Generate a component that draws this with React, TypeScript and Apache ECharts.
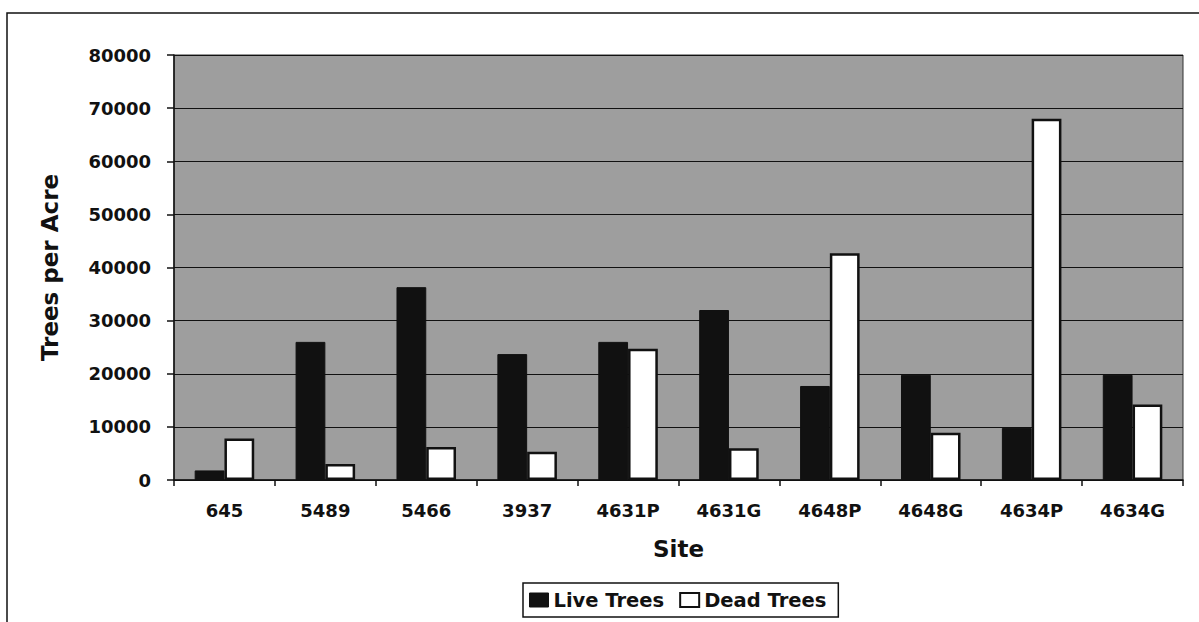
import React, { useEffect, useRef } from "react";
import * as echarts from "echarts";

const sites = ["645", "5489", "5466", "3937", "4631P", "4631G", "4648P", "4648G", "4634P", "4634G"];
const liveTrees = [1800, 26000, 36300, 23700, 26000, 32000, 17700, 19800, 9800, 19800];
const deadTrees = [7800, 3000, 6200, 5300, 24700, 6000, 42700, 8900, 68000, 14200];
const yMin = 0;
const yMax = 80000;
const yInterval = 10000;

const FONT = "DejaVu Sans";

export default function App() {
  const ref = useRef<HTMLDivElement>(null);
  useEffect(() => {
    if (!ref.current) return;
    const chart = echarts.init(ref.current, null, { renderer: "svg" });
    chart.setOption({
      animation: false,
      backgroundColor: "#ffffff",
      graphic: [
        {
          type: "rect",
          shape: { x: 7, y: 13, width: 1300, height: 700 },
          style: { fill: "none", stroke: "#111", lineWidth: 1.5 },
          silent: true,
          z: 0,
        },
      ],
      grid: {
        left: 174,
        right: 16,
        top: 55,
        bottom: 142,
        show: true,
        backgroundColor: "#9e9e9e",
        borderColor: "#333",
        borderWidth: 1,
      },
      legend: {
        left: 523,
        top: 583,
        padding: [7, 12, 7, 6],
        itemGap: 15,
        itemWidth: 19,
        itemHeight: 14,
        borderColor: "#111",
        borderWidth: 1.5,
        textStyle: { fontFamily: FONT, fontWeight: "bold", fontSize: 19.5, color: "#111" },
        data: [
          { name: "Live Trees", icon: "rect", itemStyle: { color: "#111", borderColor: "#111", borderWidth: 1 } },
          { name: "Dead Trees", icon: "rect", itemStyle: { color: "#fff", borderColor: "#111", borderWidth: 2 } },
        ],
      },
      xAxis: {
        type: "category",
        data: sites,
        name: "Site",
        nameLocation: "middle",
        nameGap: 57,
        nameTextStyle: { fontFamily: FONT, fontWeight: "bold", fontSize: 23, color: "#111" },
        axisLine: { show: true, lineStyle: { color: "#111", width: 1.5 } },
        axisTick: { show: true, alignWithLabel: false, length: 6, lineStyle: { color: "#111", width: 1.5 } },
        axisLabel: { fontFamily: FONT, fontWeight: "bold", fontSize: 18, color: "#111", margin: 21 },
        splitLine: { show: false },
      },
      yAxis: {
        type: "value",
        min: yMin,
        max: yMax,
        interval: yInterval,
        name: "Trees per Acre",
        nameLocation: "middle",
        nameGap: 113,
        nameTextStyle: { fontFamily: FONT, fontWeight: "bold", fontSize: 23, color: "#111" },
        axisLine: { show: true, lineStyle: { color: "#111", width: 1.5 } },
        axisTick: { show: true, length: 7, lineStyle: { color: "#111", width: 1.5 } },
        axisLabel: {
          fontFamily: FONT,
          fontWeight: "bold",
          fontSize: 18,
          color: "#111",
          margin: 23,
          formatter: (v: number) => String(v),
        },
        splitLine: { show: true, lineStyle: { color: "#111", width: 1.2 } },
      },
      series: [
        {
          name: "Live Trees",
          type: "bar",
          data: liveTrees,
          barGap: "0%",
          barCategoryGap: "41%",
          itemStyle: { color: "#111", borderColor: "#111", borderWidth: 1 },
        },
        {
          name: "Dead Trees",
          type: "bar",
          data: deadTrees,
          barGap: "0%",
          barCategoryGap: "41%",
          itemStyle: { color: "#fff", borderColor: "#111", borderWidth: 2.5 },
        },
      ],
    });
    return () => chart.dispose();
  }, []);
  return (
    <div
      ref={ref}
      style={{ position: "absolute", left: 0, top: 0, width: 1199, height: 622 }}
    />
  );
}
